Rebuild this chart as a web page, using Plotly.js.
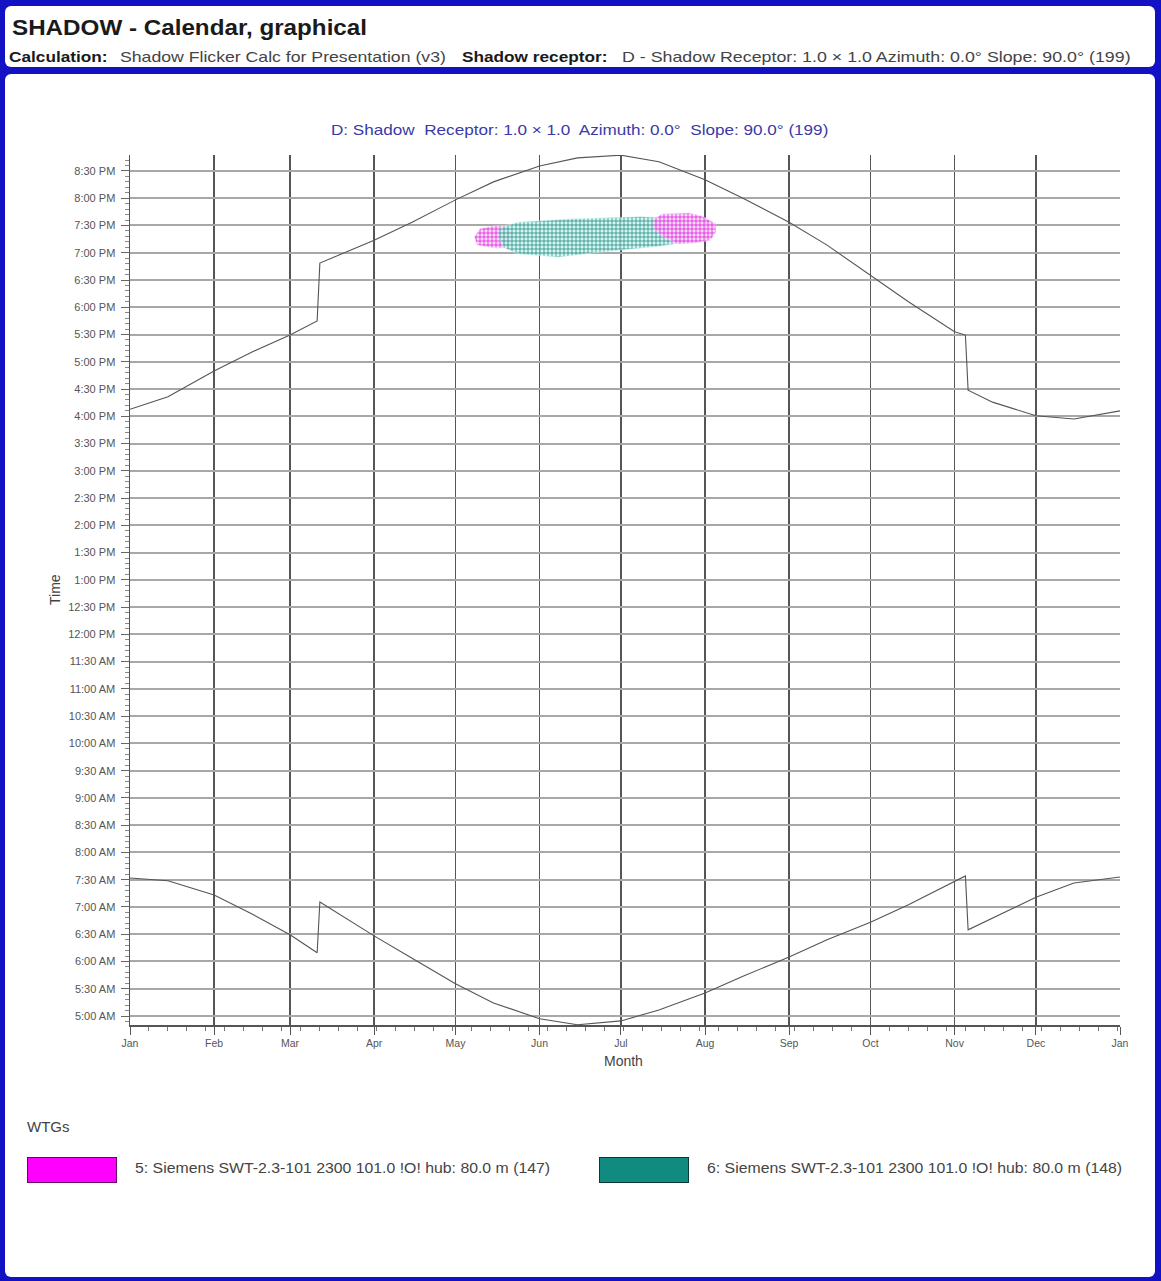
<!DOCTYPE html>
<html>
<head>
<meta charset="utf-8">
<script src="https://cdn.plot.ly/plotly-3.0.1.min.js"></script>
<style>
  html, body { margin:0; padding:0; }
  body { width:1161px; height:1281px; position:relative; overflow:hidden; font-family:"Liberation Sans", Arial, sans-serif; background:#1212c4; }
  #header { position:absolute; left:5px; top:6px; width:1150px; height:61px; background:#fff; border-radius:6px; }
  #content { position:absolute; left:5px; top:74px; width:1150px; height:1203px; background:#fff; border-radius:6px; }
  .t { position:absolute; white-space:nowrap; transform-origin:0 50%; }
  #chart { position:absolute; left:0; top:0; width:1161px; height:1281px; }
  .box { position:absolute; width:88px; height:24px; border:1px solid #444; }
</style>
</head>
<body>
<div id="header"></div>
<div id="content"></div>
<div id="chart"></div>
<div class="t" style="left:12px; top:15px; font-size:22px; font-weight:bold; color:#1a1a1a; transform:scaleX(1.1);">SHADOW - Calendar, graphical</div>
<div class="t" style="left:9px; top:49px; font-size:14.6px; font-weight:bold; color:#1a1a1a; transform:scaleX(1.18);">Calculation:</div>
<div class="t" style="left:120px; top:49px; font-size:14.6px; color:#444; transform:scaleX(1.21);">Shadow Flicker Calc for Presentation (v3)</div>
<div class="t" style="left:462px; top:49px; font-size:14.6px; font-weight:bold; color:#1a1a1a; transform:scaleX(1.18);">Shadow receptor:</div>
<div class="t" style="left:622px; top:49px; font-size:14.6px; color:#444; transform:scaleX(1.22);">D - Shadow Receptor: 1.0 × 1.0 Azimuth: 0.0° Slope: 90.0° (199)</div>
<div class="t" id="ctitle" style="left:331px; top:122px; font-size:14.5px; color:#3a3aa8; transform:scaleX(1.18);">D: Shadow&nbsp; Receptor: 1.0 × 1.0&nbsp; Azimuth: 0.0°&nbsp; Slope: 90.0° (199)</div>
<div class="t" style="left:27px; top:1118px; font-size:15px; color:#444;">WTGs</div>
<div class="box" style="left:27px; top:1157px; background:#ff00ff; border-color:#6a006a;"></div>
<div class="t" style="left:135px; top:1160px; font-size:14px; color:#444; transform:scaleX(1.13);">5: Siemens SWT-2.3-101 2300 101.0 !O! hub: 80.0 m (147)</div>
<div class="box" style="left:599px; top:1157px; background:#118a80; border-color:#0a3a36;"></div>
<div class="t" style="left:707px; top:1160px; font-size:14px; color:#444; transform:scaleX(1.13);">6: Siemens SWT-2.3-101 2300 101.0 !O! hub: 80.0 m (148)</div>
<script>
// ---- data ----
const monthTicks = ['2023-01-01','2023-02-01','2023-03-01','2023-04-01','2023-05-01','2023-06-01','2023-07-01','2023-08-01','2023-09-01','2023-10-01','2023-11-01','2023-12-01','2024-01-01'];
const monthLabels = ['Jan','Feb','Mar','Apr','May','Jun','Jul','Aug','Sep','Oct','Nov','Dec','Jan'];
const timeTicks = [5,5.5,6,6.5,7,7.5,8,8.5,9,9.5,10,10.5,11,11.5,12,12.5,13,13.5,14,14.5,15,15.5,16,16.5,17,17.5,18,18.5,19,19.5,20,20.5];
const timeLabels = ['5:00 AM','5:30 AM','6:00 AM','6:30 AM','7:00 AM','7:30 AM','8:00 AM','8:30 AM','9:00 AM','9:30 AM','10:00 AM','10:30 AM','11:00 AM','11:30 AM','12:00 PM','12:30 PM','1:00 PM','1:30 PM','2:00 PM','2:30 PM','3:00 PM','3:30 PM','4:00 PM','4:30 PM','5:00 PM','5:30 PM','6:00 PM','6:30 PM','7:00 PM','7:30 PM','8:00 PM','8:30 PM'];

const sunsetDates = ['2023-01-01','2023-01-15','2023-02-01','2023-02-15','2023-03-01','2023-03-11','2023-03-12','2023-04-01','2023-04-15','2023-05-01','2023-05-15','2023-06-01','2023-06-15','2023-07-01','2023-07-15','2023-08-01','2023-08-15','2023-09-01','2023-09-15','2023-10-01','2023-10-15','2023-11-01','2023-11-05','2023-11-06','2023-11-15','2023-12-01','2023-12-15','2024-01-01'];
const sunsetHours = [16.13,16.36,16.83,17.18,17.49,17.75,18.81,19.23,19.56,19.97,20.30,20.59,20.74,20.79,20.67,20.34,20.00,19.56,19.14,18.59,18.10,17.55,17.49,16.48,16.26,16.01,15.95,16.10];

const sunriseDates = ['2023-01-01','2023-01-15','2023-02-01','2023-02-15','2023-03-01','2023-03-11','2023-03-12','2023-04-01','2023-04-15','2023-05-01','2023-05-15','2023-06-01','2023-06-15','2023-07-01','2023-07-15','2023-08-01','2023-08-15','2023-09-01','2023-09-15','2023-10-01','2023-10-15','2023-11-01','2023-11-05','2023-11-06','2023-11-15','2023-12-01','2023-12-15','2024-01-01'];
const sunriseHours = [7.53,7.48,7.22,6.87,6.49,6.16,7.09,6.47,6.06,5.59,5.24,4.95,4.84,4.91,5.11,5.42,5.73,6.08,6.40,6.72,7.04,7.46,7.57,6.58,6.80,7.18,7.44,7.55];

// shadow flicker zones (outlines)
const wtg5aDates = ['2023-05-08','2023-05-10','2023-05-15','2023-05-21','2023-05-22','2023-05-21','2023-05-15','2023-05-09'];
const wtg5aHours = [19.29,19.44,19.49,19.51,19.29,19.09,19.09,19.14];
const wtg6Dates = ['2023-05-17','2023-05-24','2023-06-12','2023-07-08','2023-07-19','2023-07-26','2023-07-28','2023-07-26','2023-07-15','2023-06-23','2023-06-08','2023-05-24','2023-05-19','2023-05-17'];
const wtg6Hours = [19.45,19.56,19.62,19.66,19.64,19.56,19.38,19.20,19.12,19.01,18.92,18.98,19.09,19.27];
const wtg5bDates = ['2023-07-13','2023-07-16','2023-07-26','2023-07-31','2023-08-05','2023-08-05','2023-08-03','2023-07-28','2023-07-22','2023-07-16','2023-07-13'];
const wtg5bHours = [19.60,19.71,19.73,19.67,19.53,19.38,19.23,19.18,19.16,19.31,19.45];

const magenta = '#e000e0', teal = '#117a72';
function zone(x, y, fg, bg) {
  return { x: x, y: y, type:'scatter', mode:'lines', fill:'toself', line:{width:0.6, color:bg},
    fillcolor: bg, fillpattern:{shape:'+', fgcolor:fg, bgcolor:bg, size:4, solidity:0.3},
    hoverinfo:'skip', showlegend:false };
}

const traces = [
  zone(wtg5aDates, wtg5aHours, magenta, 'rgba(248,215,248,0.9)'),
  zone(wtg6Dates, wtg6Hours, teal, 'rgba(205,245,240,0.9)'),
  zone(wtg5bDates, wtg5bHours, magenta, 'rgba(248,215,248,0.9)'),
  { x: sunsetDates, y: sunsetHours, type:'scatter', mode:'lines', line:{color:'#555', width:1.1}, showlegend:false },
  { x: sunriseDates, y: sunriseHours, type:'scatter', mode:'lines', line:{color:'#555', width:1.1}, showlegend:false }
];

const layout = {
  width:1161, height:1281,
  margin:{l:130, r:41, t:155, b:256},
  paper_bgcolor:'rgba(0,0,0,0)', plot_bgcolor:'rgba(0,0,0,0)',
  font:{family:'"Liberation Sans", Arial, sans-serif', color:'#555'},
  showlegend:false,
  xaxis:{ type:'date', range:['2023-01-01','2024-01-01'], tickmode:'array', tickvals:monthTicks, ticktext:monthLabels,
    showgrid:true, gridcolor:'#555', gridwidth:1.6, showline:true, linecolor:'#555', linewidth:1.5,
    ticks:'outside', ticklen:8, tickcolor:'#555', tickfont:{size:10.5, color:'#555'}, zeroline:false, fixedrange:true,
    minor:{tickmode:'linear', tick0:'2023-01-01', dtick:7*86400000, ticks:'outside', ticklen:4, tickcolor:'#777', showgrid:false} },
  yaxis:{ range:[4.835, 20.793], tickmode:'array', tickvals:timeTicks, ticktext:timeLabels,
    showgrid:true, gridcolor:'#a8a8a8', gridwidth:2, showline:true, linecolor:'#555', linewidth:1.5,
    ticks:'outside', ticklen:8, tickcolor:'#666', tickfont:{size:11, color:'#555'}, ticklabelstandoff:3, zeroline:false, fixedrange:true,
    minor:{tickmode:'linear', tick0:5, dtick:0.1, ticks:'outside', ticklen:4, tickcolor:'#888', showgrid:false} },
  annotations:[
    { text:'Month', xref:'paper', yref:'paper', x:(623-130)/990, y:(1025-1061)/870, showarrow:false, font:{size:14, color:'#444'}, xanchor:'center', yanchor:'middle' },
    { text:'Time', xref:'paper', yref:'paper', x:(55-130)/990, y:(1025-590)/870, showarrow:false, textangle:-90, font:{size:14, color:'#444'}, xanchor:'center', yanchor:'middle' }
  ]
};

Plotly.newPlot('chart', traces, layout, {displayModeBar:false, staticPlot:true});
</script>
</body>
</html>
